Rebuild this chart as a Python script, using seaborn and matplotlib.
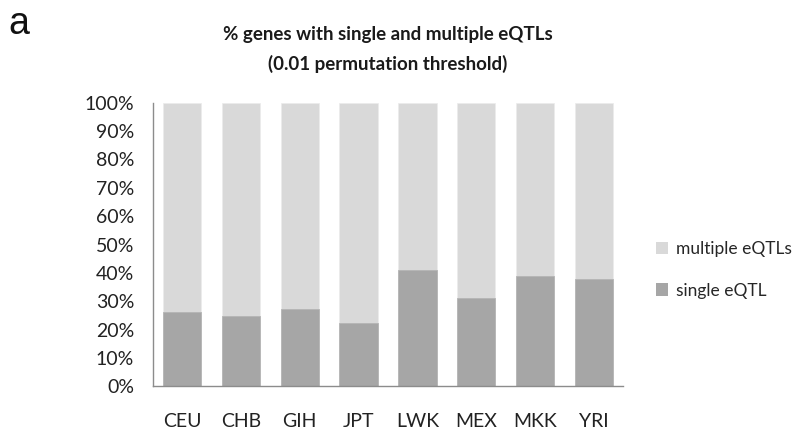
import pandas as pd
import seaborn as sns
from matplotlib import pyplot as plt
from matplotlib.patches import Patch
from matplotlib.ticker import PercentFormatter

populations = ['CEU', 'CHB', 'GIH', 'JPT', 'LWK', 'MEX', 'MKK', 'YRI']
single_eqtl = [26.3, 24.7, 27.3, 22.3, 40.9, 31.2, 38.8, 37.7]
multiple_eqtl = [73.7, 75.3, 72.7, 77.7, 59.1, 68.8, 61.2, 62.3]

df = pd.DataFrame({'population': populations,
                   'single': single_eqtl,
                   'multiple': multiple_eqtl})
df['total'] = df['single'] + df['multiple']

sns.set_style('white')
plt.rcParams['font.family'] = ['Lato', 'DejaVu Sans']

light = '#d9d9d9'
dark = '#a6a6a6'

fig = plt.figure(figsize=(8, 4.32), dpi=100)
ax = fig.add_axes([0.191, 0.106, 0.588, 0.656])

# stacked bars: full height in light grey, single part over it in dark grey
sns.barplot(data=df, x='population', y='total', color=light, width=0.65,
            edgecolor='#ececec', linewidth=0.6, ax=ax)
sns.barplot(data=df, x='population', y='single', color=dark, width=0.65,
            edgecolor='#b5b5b5', linewidth=0.6, ax=ax)

ax.set_xlim(-0.5, 7.5)
ax.set_ylim(0, 100)
ax.set_yticks(range(0, 101, 10))
ax.yaxis.set_major_formatter(PercentFormatter(decimals=0))
ax.set_xlabel('')
ax.set_ylabel('')
ax.tick_params(axis='x', length=0, pad=19, labelsize=14, colors='#222222')
ax.tick_params(axis='y', length=0, pad=13.5, labelsize=14, colors='#222222')

for side in ['top', 'right']:
    ax.spines[side].set_visible(False)
for side in ['left', 'bottom']:
    ax.spines[side].set_color('#8c8c8c')
    ax.spines[side].set_linewidth(1)

ax.set_title('% genes with single and multiple eQTLs\n(0.01 permutation threshold)',
             fontsize=13.5, fontweight='bold', color='#1a1a1a', pad=24,
             linespacing=1.75)

handles = [Patch(facecolor=light, edgecolor='none', label='multiple eQTLs'),
           Patch(facecolor=dark, edgecolor='none', label='single eQTL')]
fig.legend(handles=handles, loc='center left', bbox_to_anchor=(0.8, 0.375),
           frameon=False, fontsize=12.5, handlelength=0.7, handleheight=0.7,
           handletextpad=0.5, labelspacing=1.45)

fig.text(0.011, 0.985, 'a', fontsize=27, va='top', ha='left', color='#111111',
         family=['Liberation Sans', 'DejaVu Sans'])

fig.savefig('out.png', dpi=100)
